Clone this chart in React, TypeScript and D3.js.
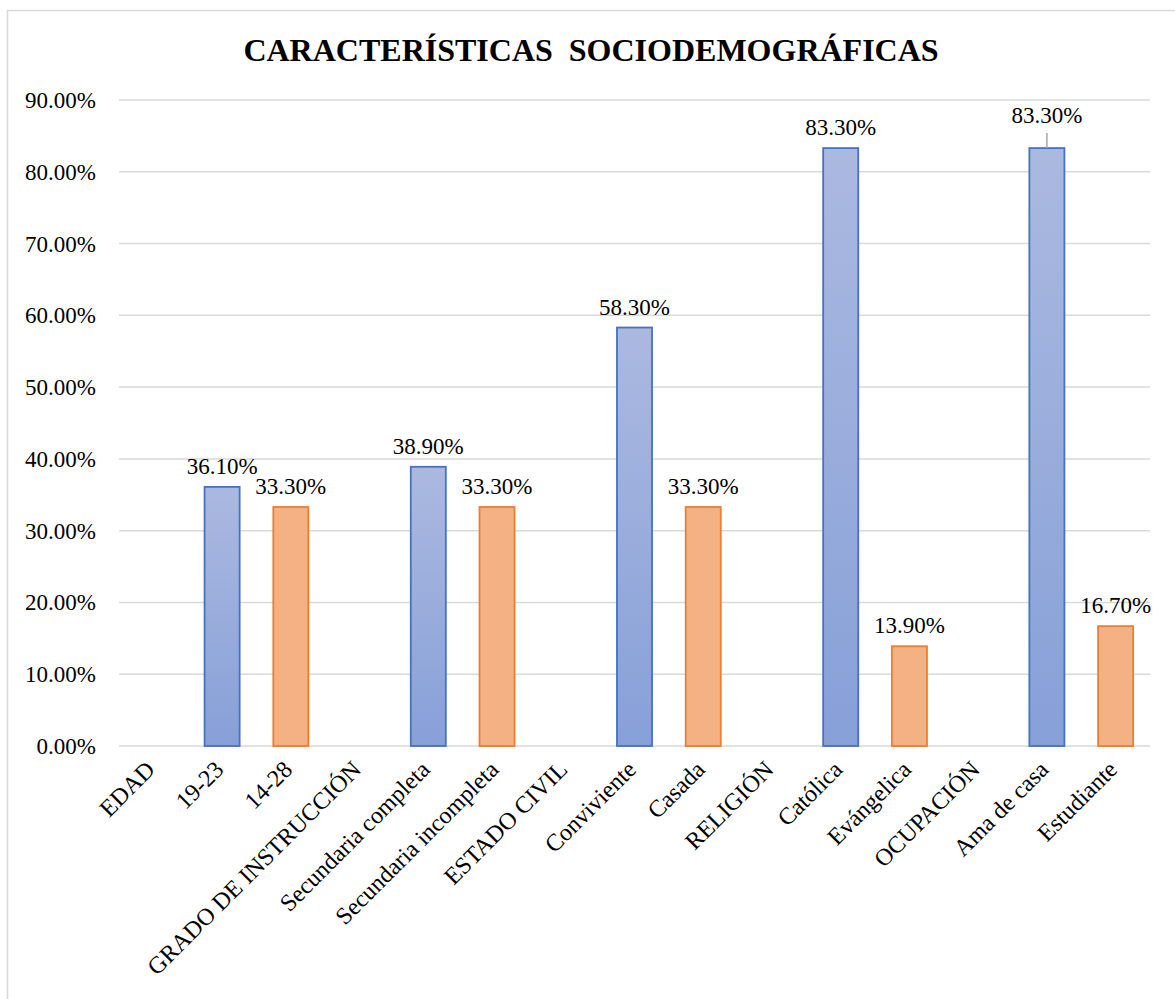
import React from "react";
import * as d3 from "d3";

const categories = [
  "EDAD", "19-23", "14-28", "GRADO DE INSTRUCCIÓN", "Secundaria completa",
  "Secundaria incompleta", "ESTADO CIVIL", "Conviviente", "Casada", "RELIGIÓN",
  "Católica", "Evángelica", "OCUPACIÓN", "Ama de casa", "Estudiante",
];
const blueValues: (number | null)[] = [null, 0.361, null, null, 0.389, null, null, 0.583, null, null, 0.833, null, null, 0.833, null];
const orangeValues: (number | null)[] = [null, null, 0.333, null, null, 0.333, null, null, 0.333, null, null, 0.139, null, null, 0.167];
const yTicks = [0, 0.1, 0.2, 0.3, 0.4, 0.5, 0.6, 0.7, 0.8, 0.9];
const title = "CARACTERÍSTICAS\u00a0\u00a0SOCIODEMOGRÁFICAS";
const leaderCategory = "Ama de casa";

const W = 1175, H = 999;
const plot = { left: 119, right: 1150, top: 100, bottom: 746 };
const serif = { fontFamily: "'Liberation Serif', serif" };

export default function App() {
  const x = d3.scaleBand<string>().domain(categories).range([plot.left, plot.right]).paddingInner(0.49).paddingOuter(0.245);
  const y = d3.scaleLinear().domain([0, 0.9]).range([plot.bottom, plot.top]);
  const fmt = (v: number) => (v * 100).toFixed(2) + "%";

  const bars: { cat: string; v: number; kind: "blue" | "orange" }[] = [];
  categories.forEach((c, i) => {
    if (blueValues[i] != null) bars.push({ cat: c, v: blueValues[i] as number, kind: "blue" });
    if (orangeValues[i] != null) bars.push({ cat: c, v: orangeValues[i] as number, kind: "orange" });
  });

  return (
    <svg width={W} height={H} style={{ position: "absolute", left: 0, top: 0, display: "block", background: "#fff" }}>
      <defs>
        <linearGradient id="blueGrad" x1="0" y1="0" x2="0" y2="1">
          <stop offset="0" stopColor="#abb9e0" />
          <stop offset="1" stopColor="#87a0d8" />
        </linearGradient>
      </defs>
      <rect x={7.5} y={10.5} width={1300} height={1200} fill="#fff" stroke="#d9d9d9" strokeWidth={1.5} />
      <text x={591} y={61} textAnchor="middle" fontSize={32} fontWeight="bold" fill="#000" style={serif}>{title}</text>
      {yTicks.map((t) => (
        <g key={t}>
          <line x1={plot.left} x2={plot.right} y1={y(t)} y2={y(t)} stroke="#d9d9d9" strokeWidth={1.5} />
          <text x={96} y={y(t) + 8} textAnchor="end" fontSize={23} fill="#000" style={serif}>{fmt(t)}</text>
        </g>
      ))}
      {bars.map((b) => {
        const x0 = x(b.cat)!;
        const bw = x.bandwidth();
        const top = y(b.v);
        const cx = x0 + bw / 2;
        const leader = b.cat === leaderCategory;
        const labelY = leader ? top - 25 : top - 13;
        return (
          <g key={b.cat}>
            <rect x={x0} y={top} width={bw} height={y(0) - top}
              fill={b.kind === "blue" ? "url(#blueGrad)" : "#f4b183"}
              stroke={b.kind === "blue" ? "#4472c4" : "#ed7d31"} strokeWidth={1.8} />
            {leader && <line x1={cx} x2={cx} y1={top - 15} y2={top} stroke="#a6a6a6" strokeWidth={1.5} />}
            <text x={cx} y={labelY} textAnchor="middle" fontSize={23} fill="#000" style={serif}>{fmt(b.v)}</text>
          </g>
        );
      })}
      {categories.map((c) => {
        const cx = x(c)! + x.bandwidth() / 2 + 3;
        return (
          <text key={c} transform={`translate(${cx},${771}) rotate(-45)`} textAnchor="end" fontSize={24} fill="#000" style={serif}>{c}</text>
        );
      })}
    </svg>
  );
}
